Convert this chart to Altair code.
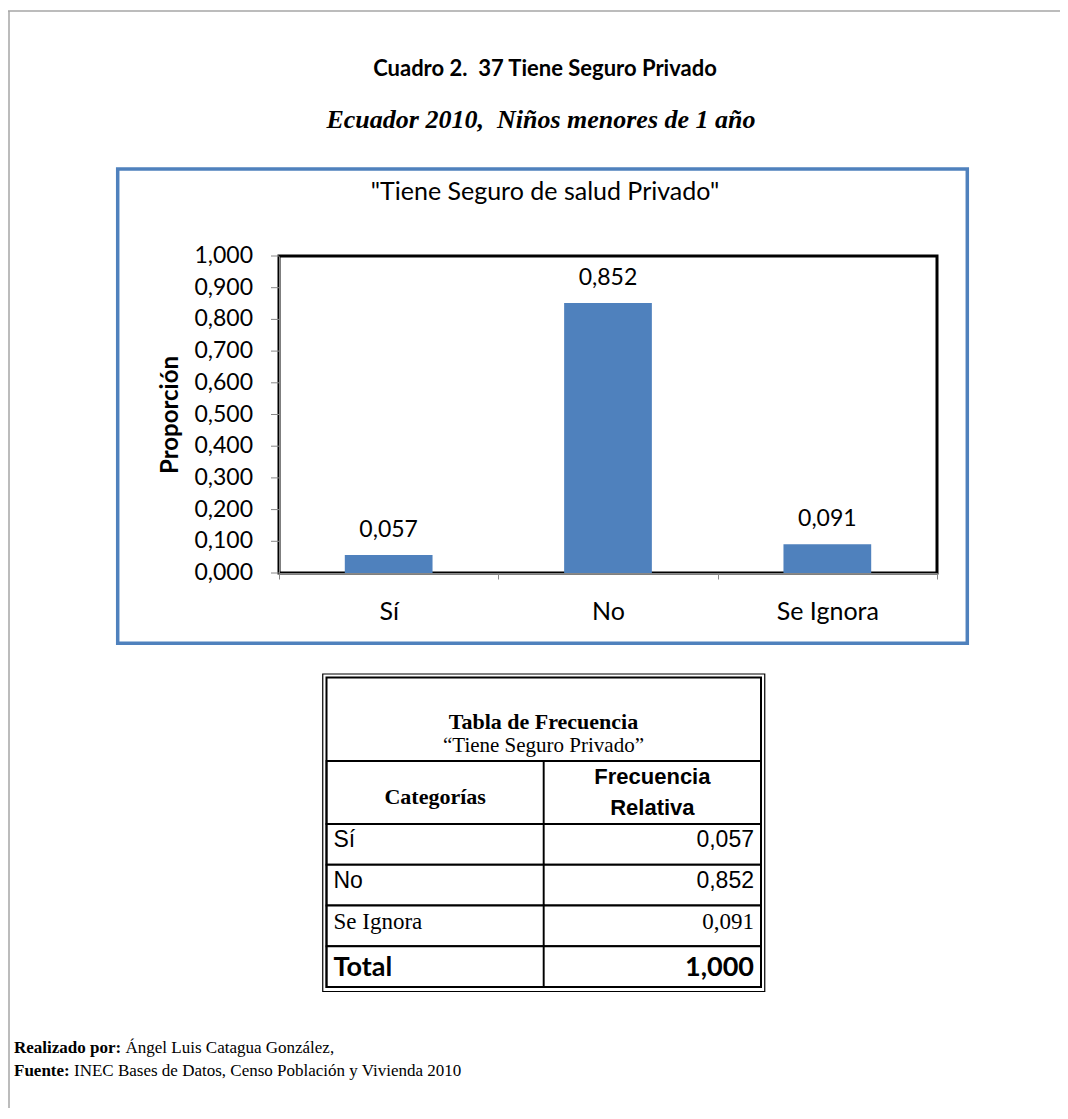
import altair as alt
import pandas as pd

# ---------------- data ----------------
categories = ["Sí", "No", "Se Ignora"]
proportions = [0.057, 0.852, 0.091]
y_ticks = [0.0, 0.1, 0.2, 0.3, 0.4, 0.5, 0.6, 0.7, 0.8, 0.9, 1.0]
table_rows = categories + ["Total"]
table_cols = ["Categorías", "Frecuencia Relativa"]

title_main = "Cuadro 2. \u00a037 Tiene Seguro Privado"
title_sub = "Ecuador 2010, \u00a0Niños menores de 1 año"
chart_title = '"Tiene Seguro de salud Privado"'
y_title = "Proporción"
table_title = "Tabla de Frecuencia"
table_subtitle = "\u201cTiene Seguro Privado\u201d"
foot1_bold, foot1_rest = "Realizado por:", "Ángel Luis Catagua González,"
foot2_bold, foot2_rest = "Fuente:", "INEC Bases de Datos, Censo Población y Vivienda 2010"


def fmt(v):
    return f"{v:.3f}".replace(".", ",")


# ---------------- layout helpers ----------------
W, H = 658, 317
PAD_L, PAD_T = 271, 248
TOTAL_W, TOTAL_H = 1052, 1100
OX, OY = PAD_L + 8, PAD_T + 8  # page position of plot origin


def px(x):
    return x - OX


def py(y):
    return y - OY


BLUE = "#4F81BD"
GRAY = "#888888"
dummy = pd.DataFrame({"k": [0]})


def box(x1, y1, x2, y2, stroke, sw):
    return alt.Chart(dummy).mark_rect(
        stroke=stroke, strokeWidth=sw, fill="white", fillOpacity=0
    ).encode(
        x=alt.value(px(x1)), x2=alt.value(px(x2)),
        y=alt.value(py(y1)), y2=alt.value(py(y2)),
    )


def rule(x1, y1, x2, y2, color, sw):
    return alt.Chart(dummy).mark_rule(color=color, strokeWidth=sw).encode(
        x=alt.value(px(x1)), x2=alt.value(px(x2)),
        y=alt.value(py(y1)), y2=alt.value(py(y2)),
    )


def label(txt, x, y, font, size, weight="normal", style="normal",
          align="center", baseline="middle"):
    return alt.Chart(dummy).mark_text(
        text=txt, font=font, fontSize=size, fontWeight=weight,
        fontStyle=style, align=align, baseline=baseline, color="black",
    ).encode(x=alt.value(px(x)), y=alt.value(py(y)))


# ---------------- bar chart ----------------
bars_df = pd.DataFrame({"cat": categories, "p": proportions,
                        "lab": [fmt(v) for v in proportions]})
ticks_df = pd.DataFrame({"t": y_ticks})

xs = alt.Scale(domain=categories, paddingInner=0, paddingOuter=0)
ys = alt.Scale(domain=[0, 1], nice=False, zero=True)

x_axis = alt.Axis(
    title=None, labelAngle=0, labelFont="Lato", labelFontSize=25,
    labelColor="black", tickBand="extent", tickSize=6, tickColor=GRAY,
    domainColor=GRAY, labelPadding=20, grid=False)
y_axis = alt.Axis(
    labels=False, ticks=False, grid=False,
    title=y_title, titleFont="Lato", titleFontSize=24, titleFontWeight="bold",
    titleColor="black", titleAngle=270, titleX=px(170), titleY=158.5,
    titleAlign="center", titleBaseline="middle", domainColor=GRAY)

bars = alt.Chart(bars_df).mark_bar(
    color=BLUE, width=alt.RelativeBandSize(0.4)
).encode(x=alt.X("cat:N", scale=xs, axis=x_axis),
         y=alt.Y("p:Q", scale=ys, axis=y_axis))

bar_labels = alt.Chart(bars_df).mark_text(
    font="Lato", fontSize=23, baseline="alphabetic", dy=-18, color="black"
).encode(x=alt.X("cat:N", scale=xs, axis=None),
         y=alt.Y("p:Q", scale=ys, axis=None), text="lab:N")

# y-axis tick marks and labels drawn from the tick list through the y scale
y_tick_marks = alt.Chart(ticks_df).mark_rule(color=GRAY, strokeWidth=1).encode(
    y=alt.Y("t:Q", scale=ys, axis=None),
    x=alt.value(-8), x2=alt.value(0))
y_tick_labels = alt.Chart(ticks_df).transform_calculate(
    lab="replace(format(datum.t, '.3f'), '.', ',')"
).mark_text(font="Lato", fontSize=23, align="right", baseline="middle",
            dx=-26, color="black").encode(
    y=alt.Y("t:Q", scale=ys, axis=None), x=alt.value(0), text="lab:N")

# ---------------- table ----------------
row_scale = alt.Scale(domain=table_rows, range=[py(824), py(987)],
                      paddingInner=0, paddingOuter=0)
col_scale = alt.Scale(domain=table_cols, range=[px(326.5), px(761)],
                      paddingInner=0, paddingOuter=0)

cells_df = pd.DataFrame([{"row": r, "col": c} for r in table_rows for c in table_cols])
rows_df = pd.DataFrame({
    "row": table_rows,
    "txt": table_rows,
    "val": [fmt(v) for v in proportions] + [fmt(sum(proportions))],
    "lc": [table_cols[0]] * len(table_rows),
    "rc": [table_cols[1]] * len(table_rows),
})
head_df = pd.DataFrame({"col": table_cols})

cells = alt.Chart(cells_df).mark_rect(
    stroke="black", strokeWidth=1.8, fill="white"
).encode(
    x=alt.X("col:N", scale=col_scale, axis=None),
    y=alt.Y("row:N", scale=row_scale, axis=None),
)

head_cells = alt.Chart(head_df).mark_rect(
    stroke="black", strokeWidth=1.8, fill="white"
).encode(
    x=alt.X("col:N", scale=col_scale, axis=None),
    y=alt.value(py(761)), y2=alt.value(py(824)),
)

head_cat = alt.Chart(head_df).transform_filter(
    alt.datum.col == table_cols[0]
).mark_text(font="Liberation Serif", fontSize=22, fontWeight="bold",
            baseline="middle", color="black").encode(
    x=alt.X("col:N", scale=col_scale, axis=None), y=alt.value(py(797)),
    text="col:N")

head_val = alt.Chart(head_df).transform_filter(
    alt.datum.col == table_cols[1]
).mark_text(font="Liberation Sans", fontSize=22, fontWeight="bold",
            baseline="middle", lineBreak=" ", lineHeight=31, color="black").encode(
    x=alt.X("col:N", scale=col_scale, axis=None), y=alt.value(py(777)),
    text="col:N")


def row_texts(sel, font, size, weight, dy):
    base = alt.Chart(rows_df).transform_filter(
        alt.FieldOneOfPredicate(field="row", oneOf=sel))
    left = base.mark_text(font=font, fontSize=size, fontWeight=weight,
                          align="left", baseline="alphabetic", dx=7, dy=dy,
                          color="black").encode(
        x=alt.X("lc:N", scale=col_scale, bandPosition=0, axis=None),
        y=alt.Y("row:N", scale=row_scale, bandPosition=0, axis=None),
        text="txt:N")
    right = base.mark_text(font=font, fontSize=size, fontWeight=weight,
                           align="right", baseline="alphabetic", dx=-7, dy=dy,
                           color="black").encode(
        x=alt.X("rc:N", scale=col_scale, bandPosition=1, axis=None),
        y=alt.Y("row:N", scale=row_scale, bandPosition=0, axis=None),
        text="val:N")
    return [left, right]


table_group = alt.layer(
    cells, head_cells, head_cat, head_val,
    *row_texts(["Sí", "No"], "Liberation Sans", 23, "normal", 23),
    *row_texts(["Se Ignora"], "Liberation Serif", 23, "normal", 23),
    *row_texts(["Total"], "Lato", 27, "bold", 30),
)

# ---------------- decorations & text ----------------
FS_FOOT = 17
deco_back = [
    rule(8, 11, 1060, 11, "#A6A6A6", 1.5),
    rule(9, 11, 9, 1108, "#A6A6A6", 1.5),
    label(title_main, 545, 69, "Lato", 22, weight="bold"),
    label(title_sub, 541, 120, "Liberation Serif", 26, weight="bold", style="italic"),
    box(117.7, 169, 967.3, 643.3, BLUE, 3.5),
    label(chart_title, 545, 192, "Lato", 25),
]
deco_front = [
    box(322.75, 674, 764.75, 991.5, "black", 1.2),
    box(326.5, 677.5, 761, 987, "black", 2),
    label(table_title, 543.5, 722, "Liberation Serif", 22, weight="bold"),
    label(table_subtitle, 543.5, 746, "Liberation Serif", 21),
    label(foot1_bold, 14, 1053, "Liberation Serif", FS_FOOT, weight="bold",
          align="left", baseline="alphabetic"),
    label(foot1_rest, 14 + 6.56 * FS_FOOT, 1053, "Liberation Serif", FS_FOOT,
          align="left", baseline="alphabetic"),
    label(foot2_bold, 14, 1076, "Liberation Serif", FS_FOOT, weight="bold",
          align="left", baseline="alphabetic"),
    label(foot2_rest, 14 + 3.53 * FS_FOOT, 1076, "Liberation Serif", FS_FOOT,
          align="left", baseline="alphabetic"),
]

chart = alt.layer(
    *deco_back, table_group, *deco_front,
    bars, bar_labels, y_tick_marks, y_tick_labels,
).resolve_scale(x="independent", y="independent").properties(
    width=W, height=H,
    autosize=alt.AutoSizeParams(type="none"),
    padding={"left": PAD_L, "top": PAD_T, "right": TOTAL_W - PAD_L - W,
             "bottom": TOTAL_H - PAD_T - H},
    background="white",
).configure_view(stroke="black", strokeWidth=3)

chart.save("out.html", embed_options={"renderer": "svg", "actions": False})
